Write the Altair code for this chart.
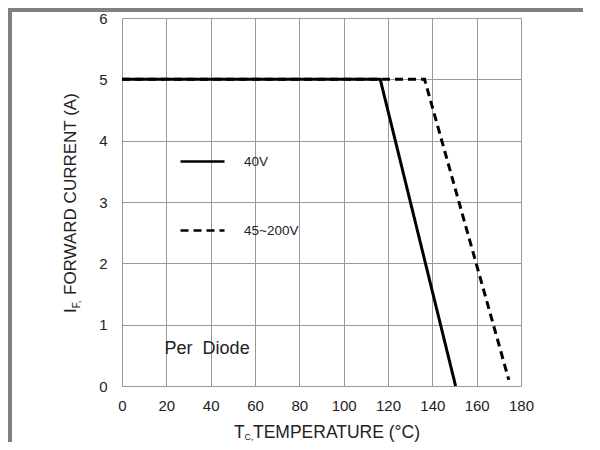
import altair as alt
import pandas as pd

# ---- data ----
temp_40v = [0, 116.5, 150.5]
curr_40v = [5, 5, 0]
temp_45v = [0, 136.5, 174.5]
curr_45v = [5, 5, 0.1]
series_names = ["40V", "45~200V"]
x_ticks = [0, 20, 40, 60, 80, 100, 120, 140, 160, 180]
y_ticks = [0, 1, 2, 3, 4, 5, 6]

FONT = "Liberation Sans"

df = pd.DataFrame({
    "t": temp_40v + temp_45v,
    "i": curr_40v + curr_45v,
    "s": [series_names[0]] * len(temp_40v) + [series_names[1]] * len(temp_45v),
    "o": list(range(len(temp_40v))) + list(range(len(temp_45v))),
})
one = pd.DataFrame({"k": [0]})

x_enc = alt.X("t:Q", scale=alt.Scale(domain=[0, 180], nice=False, zero=False),
              axis=alt.Axis(values=x_ticks, title=None, grid=True, ticks=False, domain=False,
                            labelFlush=False, labelOverlap=False,
                            labelPadding=12, labelFontSize=15, labelColor="#222",
                            labelFont=FONT, gridColor="#999999", gridWidth=1))
y_enc = alt.Y("i:Q", scale=alt.Scale(domain=[0, 6], nice=False),
              axis=alt.Axis(values=y_ticks, title=None, grid=True, ticks=False, domain=False,
                            labelFlush=False, labelOverlap=False,
                            labelPadding=15, labelFontSize=15, labelColor="#222",
                            labelFont=FONT, gridColor="#999999", gridWidth=1))

lines = alt.Chart(df).mark_line(color="black", strokeWidth=3, strokeCap="butt",
                                strokeJoin="miter").encode(
    x=x_enc, y=y_enc, order="o:Q",
    strokeDash=alt.StrokeDash("s:N", scale=alt.Scale(domain=series_names,
                                                     range=[[1, 0], [8, 5]]),
                              legend=alt.Legend(title=None, orient="none", legendX=57, legendY=120,
                                                symbolType="stroke", symbolSize=1936,
                                                symbolStrokeWidth=2.5, symbolStrokeColor="black",
                                                labelFontSize=13.5, labelFont=FONT, labelColor="#222",
                                                labelOffset=18, rowPadding=39, padding=0)),
)

per_diode = alt.Chart(one).mark_text(text="Per\u00a0 Diode", font=FONT, fontSize=18, color="#222",
                                     align="left", baseline="middle").encode(
    x=alt.value(42.6), y=alt.value(331.3))

# x-axis title with subscript
xt1 = alt.Chart(one).mark_text(text="T", font=FONT, fontSize=17.5, color="#222", align="left",
                               baseline="alphabetic").encode(x=alt.value(112), y=alt.value(419.5))
xt2 = alt.Chart(one).mark_text(text="C,", font=FONT, fontSize=9, color="#222", align="left",
                               baseline="alphabetic").encode(x=alt.value(122.5), y=alt.value(421.5))
xt3 = alt.Chart(one).mark_text(text="TEMPERATURE (°C)", font=FONT, fontSize=17.5, color="#222",
                               align="left", baseline="alphabetic").encode(x=alt.value(131), y=alt.value(419.5))

# y-axis title with subscript
yt1 = alt.Chart(one).mark_text(text="I", font=FONT, fontSize=17, color="#222", align="left",
                               baseline="alphabetic", angle=270).encode(x=alt.value(-46), y=alt.value(295))
yt2 = alt.Chart(one).mark_text(text="F,", font=FONT, fontSize=10, color="#222", align="left",
                               baseline="alphabetic", angle=270).encode(x=alt.value(-42), y=alt.value(290.3))
yt3 = alt.Chart(one).mark_text(text="FORWARD CURRENT (A)", font=FONT, fontSize=17, color="#222",
                               align="left", baseline="alphabetic", angle=270).encode(
    x=alt.value(-46), y=alt.value(277))

# page frame
frame_top = alt.Chart(one).mark_rule(color="#808080", strokeWidth=4).encode(
    x=alt.value(-114), x2=alt.value(461), y=alt.value(-8))
frame_left = alt.Chart(one).mark_rule(color="#808080", strokeWidth=4).encode(
    x=alt.value(-112), y=alt.value(-10), y2=alt.value(424))

chart = alt.layer(lines, per_diode, xt1, xt2, xt3, yt1, yt2, yt3, frame_top, frame_left).properties(
    width=399, height=368,
    autosize=alt.AutoSizeParams(type="none"),
    padding={"left": 114, "top": 10, "right": 62, "bottom": 56},
).configure_view(stroke="#999999", strokeWidth=1).configure(background="white")

chart.save("out.html", embed_options={"renderer": "svg", "actions": False})
